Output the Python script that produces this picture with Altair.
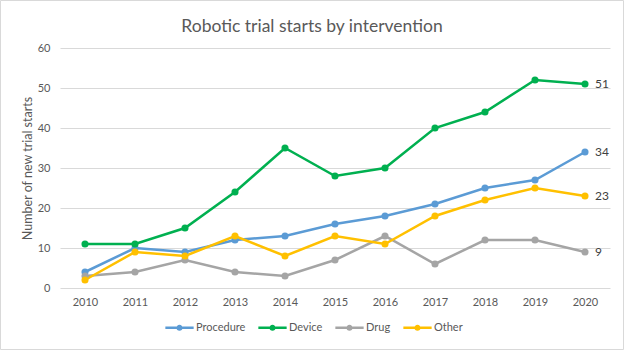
import altair as alt
import pandas as pd

years = ["2010", "2011", "2012", "2013", "2014", "2015", "2016", "2017", "2018", "2019", "2020"]
procedure = [4, 10, 9, 12, 13, 16, 18, 21, 25, 27, 34]
device = [11, 11, 15, 24, 35, 28, 30, 40, 44, 52, 51]
drug = [3, 4, 7, 4, 3, 7, 13, 6, 12, 12, 9]
other = [2, 9, 8, 13, 8, 13, 11, 18, 22, 25, 23]

series_names = ["Procedure", "Device", "Drug", "Other"]
series_colors = ["#5B9BD5", "#00B050", "#A5A5A5", "#FFC000"]
series_values = [procedure, device, drug, other]

rows = []
for name, vals in zip(series_names, series_values):
    for i, (y, v) in enumerate(zip(years, vals)):
        rows.append({"Year": y, "Series": name, "Value": v, "order": series_names.index(name)})
df = pd.DataFrame(rows)

FONT = "Lato"
TXT = "#595959"

x = alt.X("Year:O", sort=years, scale=alt.Scale(type="point", padding=0.5),
          axis=alt.Axis(title=None, labelAngle=0, ticks=False, domain=False, grid=False,
                        labelPadding=8, labelFontSize=11, labelColor=TXT, labelFont=FONT))
y = alt.Y("Value:Q", scale=alt.Scale(domain=[0, 60]),
          axis=alt.Axis(values=[0, 10, 20, 30, 40, 50, 60], title="Number of new trial starts",
                        titleFontSize=12.5, titleFontWeight="normal", titleColor=TXT, titleFont=FONT,
                        titlePadding=3, labelFontSize=11, labelColor=TXT, labelFont=FONT,
                        labelPadding=10, ticks=False, domain=False, gridColor="#D9D9D9",
                        gridWidth=1))

legend_path = ("M -1 -0.09 L 1 -0.09 L 1 0.09 L -1 0.09 Z "
               "M -0.22 0 A 0.22 0.22 0 1 1 0.22 0 A 0.22 0.22 0 1 1 -0.22 0 Z")

color = alt.Color("Series:N", sort=series_names,
                  scale=alt.Scale(domain=series_names, range=series_colors),
                  legend=alt.Legend(title=None, orient="none", direction="horizontal",
                                    legendX=105, legendY=265, symbolType=legend_path,
                                    symbolSize=800, symbolStrokeWidth=0, symbolOpacity=1,
                                    labelFontSize=11, labelColor=TXT, labelFont=FONT,
                                    columnPadding=12, labelOffset=2))

base = alt.Chart(df)
lines = base.mark_line(strokeWidth=2.5).encode(x=x, y=y, color=color, order="order:Q")
points = base.mark_point(filled=True, size=50, opacity=1).encode(x=x, y=y, color=color)
labels = base.transform_filter(alt.datum.Year == "2020").mark_text(
    align="left", dx=10, fontSize=12, color="#404040", font=FONT
).encode(x=x, y=y, text="Value:Q")

border = alt.Chart(pd.DataFrame({"a": [0]})).mark_rect(
    fill=None, stroke="#D9D9D9", strokeWidth=1
).encode(x=alt.value(-59.5), x2=alt.value(563.5), y=alt.value(-47.5), y2=alt.value(301.5))

chart = alt.layer(border, lines, points, labels).properties(
    width=550, height=240,
    padding={"left": 60, "top": 48, "right": 14, "bottom": 62},
    autosize=alt.AutoSizeParams(type="none"),
    title=alt.TitleParams("Robotic trial starts by intervention", fontSize=17.5,
                          fontWeight="normal", color=TXT, font=FONT, offset=15,
                          dx=-23, dy=50),
).configure_view(stroke=None)

chart.save("out.html", embed_options={"renderer": "svg", "actions": False})
